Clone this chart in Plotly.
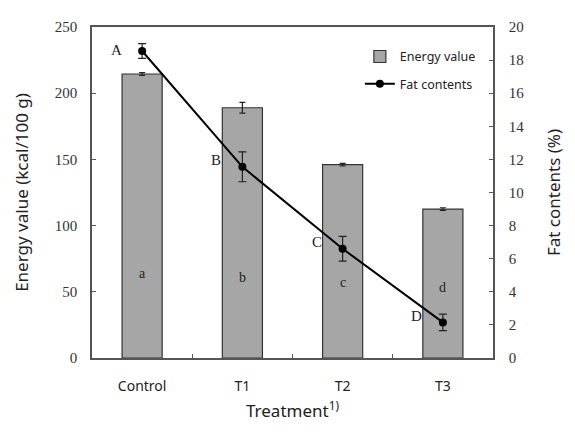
import plotly.graph_objects as go

categories = ["Control", "T1", "T2", "T3"]
energy = [214.5, 189, 146, 112.5]
energy_err = [1, 4, 1, 1]
fat = [18.55, 11.55, 6.6, 2.15]
fat_err = [0.45, 0.9, 0.75, 0.5]
fat_letters = ["A", "B", "C", "D"]
energy_letters = ["a", "b", "c", "d"]
energy_letter_y = [64, 61, 57, 53]

serif = "Liberation Serif"
sans = "Noto Sans"

fig = go.Figure()
fig.add_trace(go.Bar(
    x=categories, y=energy, name="Energy value", legendgroup="e",
    marker=dict(color="#a6a6a6", line=dict(color="#333333", width=1.2)),
    width=0.4,
    error_y=dict(type="data", array=energy_err, visible=True, color="#222", thickness=1.2, width=3),
    yaxis="y",
))
fig.add_trace(go.Scatter(
    x=categories, y=fat, name="Fat contents", mode="lines+markers", legendgroup="f",
    line=dict(color="black", width=2),
    marker=dict(color="black", size=8),
    error_y=dict(type="data", array=fat_err, visible=True, color="#222", thickness=1.2, width=4),
    yaxis="y2",
))

ann = []
for i, t in enumerate(fat_letters):
    ann.append(dict(x=i - 0.26, y=fat[i] + (0.05 if i == 0 else 0.4), xref="x", yref="y2", text=t,
                    showarrow=False, font=dict(family=serif, size=15, color="#222")))
for i, (c, t) in enumerate(zip(categories, energy_letters)):
    ann.append(dict(x=c, y=energy_letter_y[i], xref="x", yref="y", text=t, showarrow=False,
                    font=dict(family=serif, size=14, color="#222")))

fig.update_layout(
    width=567, height=424,
    margin=dict(l=84, r=82, t=11, b=74),
    plot_bgcolor="white", paper_bgcolor="white",
    showlegend=True,
    legend=dict(x=0.668, y=0.955, xanchor="left", yanchor="top", bgcolor="rgba(0,0,0,0)",
                font=dict(family=sans, size=12.5, color="#222"), tracegroupgap=8, itemwidth=30),
    annotations=ann,
    bargap=0.6,
    xaxis=dict(
        type="category", range=[-0.5, 3.5], showline=True, linecolor="#555", linewidth=1.5,
        mirror=True, ticks="inside", tickson="boundaries", ticklen=4, tickcolor="#555",
        tickfont=dict(family=sans, size=14, color="#222"), ticklabelstandoff=14,
        title=dict(text="Treatment<sup>1)</sup>", font=dict(family=sans, size=17, color="#222"), standoff=12),
    ),
    yaxis=dict(
        range=[0, 250], tickvals=[0, 50, 100, 150, 200, 250], showline=True, linecolor="#555",
        linewidth=1.5, ticks="inside", ticklen=4, tickcolor="#555", showgrid=False, zeroline=False,
        tickfont=dict(family=serif, size=15, color="#333"), ticklabelstandoff=10,
        title=dict(text="Energy value (kcal/100 g)", font=dict(family=sans, size=17, color="#222"), standoff=22),
    ),
    yaxis2=dict(
        range=[0, 20], tickvals=list(range(0, 21, 2)), overlaying="y", side="right", showline=True,
        linecolor="#555", linewidth=1.5, ticks="inside", ticklen=4, tickcolor="#555", showgrid=False,
        zeroline=False, tickfont=dict(family=serif, size=15, color="#333"), ticklabelstandoff=11,
        title=dict(text="Fat contents (%)", font=dict(family=sans, size=17, color="#222"), standoff=25),
    ),
)

fig.write_html("out.html")
